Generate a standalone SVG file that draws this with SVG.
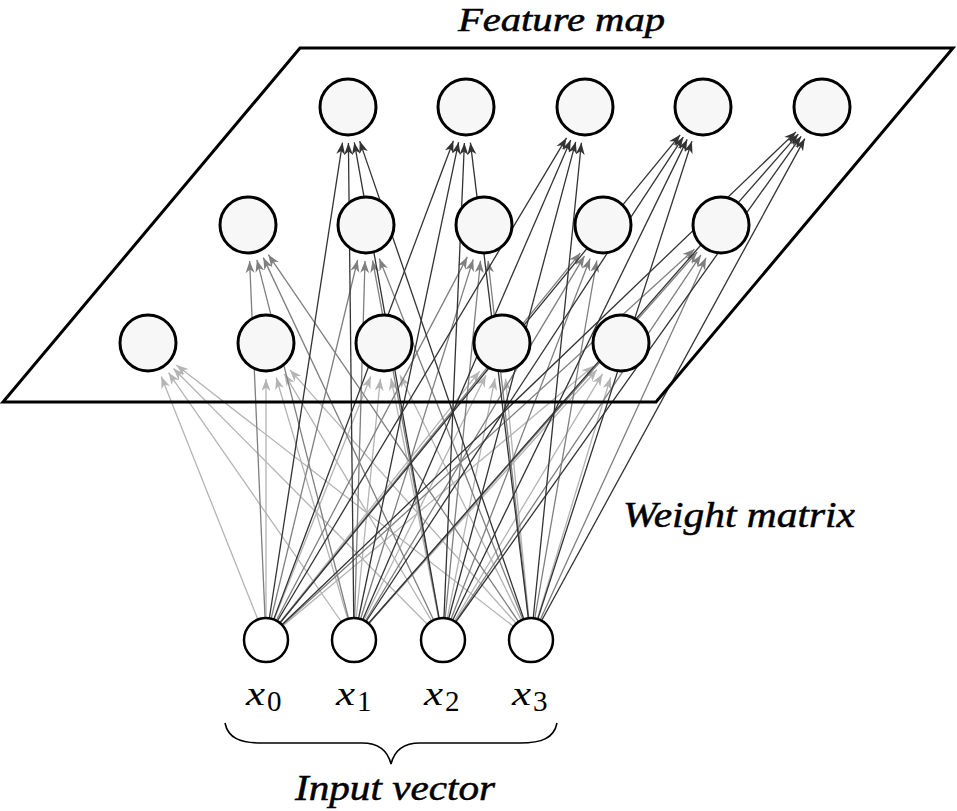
<svg xmlns="http://www.w3.org/2000/svg" width="957" height="811" viewBox="0 0 957 811">
<style>
.fm{fill:#f7f7f7;stroke:#000;stroke-width:3}
.in{fill:#fff;stroke:#000;stroke-width:2.5}
.lt{stroke:#b4b4b4;stroke-width:1.3;fill:none;marker-end:url(#aL)}
.md{stroke:#7f7f7f;stroke-width:1.3;fill:none;marker-end:url(#aM)}
.dk{stroke:#333;stroke-width:1.3;fill:none;marker-end:url(#aD)}
</style>
<defs>
<marker id="aL" markerUnits="userSpaceOnUse" markerWidth="12" markerHeight="10" viewBox="0 0 12 10" refX="12" refY="5" orient="auto"><path d="M0,0.5 L12,5 L0,9.5 L3.5,5 Z" fill="#b4b4b4"/></marker>
<marker id="aM" markerUnits="userSpaceOnUse" markerWidth="12" markerHeight="10" viewBox="0 0 12 10" refX="12" refY="5" orient="auto"><path d="M0,0.5 L12,5 L0,9.5 L3.5,5 Z" fill="#7f7f7f"/></marker>
<marker id="aD" markerUnits="userSpaceOnUse" markerWidth="12" markerHeight="10" viewBox="0 0 12 10" refX="12" refY="5" orient="auto"><path d="M0,0.5 L12,5 L0,9.5 L3.5,5 Z" fill="#333"/></marker>
</defs>
<g id="connectors">
<path class="lt" d="M266,640 L161.3,376.5"/>
<path class="lt" d="M354,640 L168.5,372.6"/>
<path class="lt" d="M443,640 L173.4,368.5"/>
<path class="lt" d="M531,640 L176.4,365.1"/>
<path class="lt" d="M266,640 L266,379"/>
<path class="lt" d="M354,640 L276.2,377.5"/>
<path class="lt" d="M443,640 L284.4,373.9"/>
<path class="lt" d="M531,640 L290,369.9"/>
<path class="lt" d="M266,640 L370.7,376.5"/>
<path class="lt" d="M354,640 L380.4,378.8"/>
<path class="lt" d="M443,640 L391,378.3"/>
<path class="lt" d="M531,640 L400,375.3"/>
<path class="lt" d="M266,640 L479.6,371.2"/>
<path class="lt" d="M354,640 L485.9,375.2"/>
<path class="lt" d="M443,640 L495,378.3"/>
<path class="lt" d="M531,640 L505.5,378.8"/>
<path class="lt" d="M266,640 L593.4,366.1"/>
<path class="lt" d="M354,640 L596.9,369.8"/>
<path class="lt" d="M443,640 L602.5,373.9"/>
<path class="lt" d="M531,640 L610.6,377.5"/>
<path class="md" d="M266,640 L249.6,261"/>
<path class="md" d="M354,640 L256.9,259.9"/>
<path class="md" d="M443,640 L263.3,257.6"/>
<path class="md" d="M531,640 L268.3,254.7"/>
<path class="md" d="M266,640 L357.6,260"/>
<path class="md" d="M354,640 L365,261"/>
<path class="md" d="M443,640 L372.6,260.4"/>
<path class="md" d="M531,640 L379.3,258.5"/>
<path class="md" d="M266,640 L467.3,256.9"/>
<path class="md" d="M354,640 L473.2,259.4"/>
<path class="md" d="M443,640 L480.5,260.8"/>
<path class="md" d="M531,640 L488.1,260.8"/>
<path class="md" d="M266,640 L580.3,253"/>
<path class="md" d="M354,640 L584.5,255.9"/>
<path class="md" d="M443,640 L590.1,258.6"/>
<path class="md" d="M531,640 L596.8,260.5"/>
<path class="md" d="M266,640 L694.4,249.3"/>
<path class="md" d="M354,640 L697.2,252"/>
<path class="md" d="M443,640 L701,254.9"/>
<path class="md" d="M531,640 L706,257.7"/>
<path class="dk" d="M266,640 L342.5,142.6"/>
<path class="dk" d="M354,640 L348.4,143"/>
<path class="dk" d="M443,640 L354.3,142.4"/>
<path class="dk" d="M531,640 L359.7,141.1"/>
<path class="dk" d="M266,640 L453.4,140.7"/>
<path class="dk" d="M354,640 L458.6,142.2"/>
<path class="dk" d="M443,640 L464.4,143"/>
<path class="dk" d="M531,640 L470.4,142.7"/>
<path class="dk" d="M266,640 L566.5,137.9"/>
<path class="dk" d="M354,640 L570.7,140"/>
<path class="dk" d="M443,640 L575.7,141.8"/>
<path class="dk" d="M531,640 L581.4,142.8"/>
<path class="dk" d="M266,640 L680.2,134.8"/>
<path class="dk" d="M354,640 L683.3,137.1"/>
<path class="dk" d="M443,640 L687.2,139.4"/>
<path class="dk" d="M531,640 L691.9,141.3"/>
<path class="dk" d="M266,640 L796,131.9"/>
<path class="dk" d="M354,640 L798.3,134.1"/>
<path class="dk" d="M443,640 L801.1,136.3"/>
<path class="dk" d="M531,640 L804.8,138.6"/>
</g>
<g id="feature-map-plane">
<polygon points="300,48 953,48 656,402 3,402" fill="none" stroke="#000" stroke-width="3" stroke-linejoin="miter"/>
</g>
<g id="f-0-0"><circle class="fm" cx="348" cy="107" r="28"/></g>
<g id="f-0-1"><circle class="fm" cx="466" cy="107" r="28"/></g>
<g id="f-0-2"><circle class="fm" cx="585" cy="107" r="28"/></g>
<g id="f-0-3"><circle class="fm" cx="703" cy="107" r="28"/></g>
<g id="f-0-4"><circle class="fm" cx="822" cy="107" r="28"/></g>
<g id="f-1-0"><circle class="fm" cx="248" cy="225" r="28"/></g>
<g id="f-1-1"><circle class="fm" cx="366" cy="225" r="28"/></g>
<g id="f-1-2"><circle class="fm" cx="484" cy="225" r="28"/></g>
<g id="f-1-3"><circle class="fm" cx="603" cy="225" r="28"/></g>
<g id="f-1-4"><circle class="fm" cx="721" cy="225" r="28"/></g>
<g id="f-2-0"><circle class="fm" cx="148" cy="343" r="28"/></g>
<g id="f-2-1"><circle class="fm" cx="266" cy="343" r="28"/></g>
<g id="f-2-2"><circle class="fm" cx="384" cy="343" r="28"/></g>
<g id="f-2-3"><circle class="fm" cx="502" cy="343" r="28"/></g>
<g id="f-2-4"><circle class="fm" cx="621" cy="343" r="28"/></g>
<g id="x0"><circle class="in" cx="266" cy="640" r="22"/><text font-family="'Liberation Serif',serif"><tspan font-style="italic" font-size="34" x="246" y="705" textLength="19" lengthAdjust="spacingAndGlyphs">x</tspan><tspan font-size="29" x="267" y="711">0</tspan></text></g>
<g id="x1"><circle class="in" cx="354" cy="640" r="22"/><text font-family="'Liberation Serif',serif"><tspan font-style="italic" font-size="34" x="336" y="705" textLength="19" lengthAdjust="spacingAndGlyphs">x</tspan><tspan font-size="29" x="357" y="711">1</tspan></text></g>
<g id="x2"><circle class="in" cx="443" cy="640" r="22"/><text font-family="'Liberation Serif',serif"><tspan font-style="italic" font-size="34" x="424" y="705" textLength="19" lengthAdjust="spacingAndGlyphs">x</tspan><tspan font-size="29" x="445" y="711">2</tspan></text></g>
<g id="x3"><circle class="in" cx="531" cy="640" r="22"/><text font-family="'Liberation Serif',serif"><tspan font-style="italic" font-size="34" x="512" y="705" textLength="19" lengthAdjust="spacingAndGlyphs">x</tspan><tspan font-size="29" x="533" y="711">3</tspan></text></g>
<g id="brace">
<path d="M225,723 C228,738 240,743 262,743 L362,743 C380,743 388,752 391,764 C394,752 402,743 420,743 L520,743 C542,743 554,738 557,723" fill="none" stroke="#000" stroke-width="1.6"/>
</g>
<g id="labels" font-family="'Liberation Serif',serif" font-style="italic" font-size="36" stroke="#000" stroke-width="0.5">
<text x="458" y="31" font-size="33" textLength="207" lengthAdjust="spacingAndGlyphs">Feature map</text>
<text x="623" y="527" textLength="232" lengthAdjust="spacingAndGlyphs">Weight matrix</text>
<text x="295" y="800" textLength="200" lengthAdjust="spacingAndGlyphs">Input vector</text>
</g>
</svg>
